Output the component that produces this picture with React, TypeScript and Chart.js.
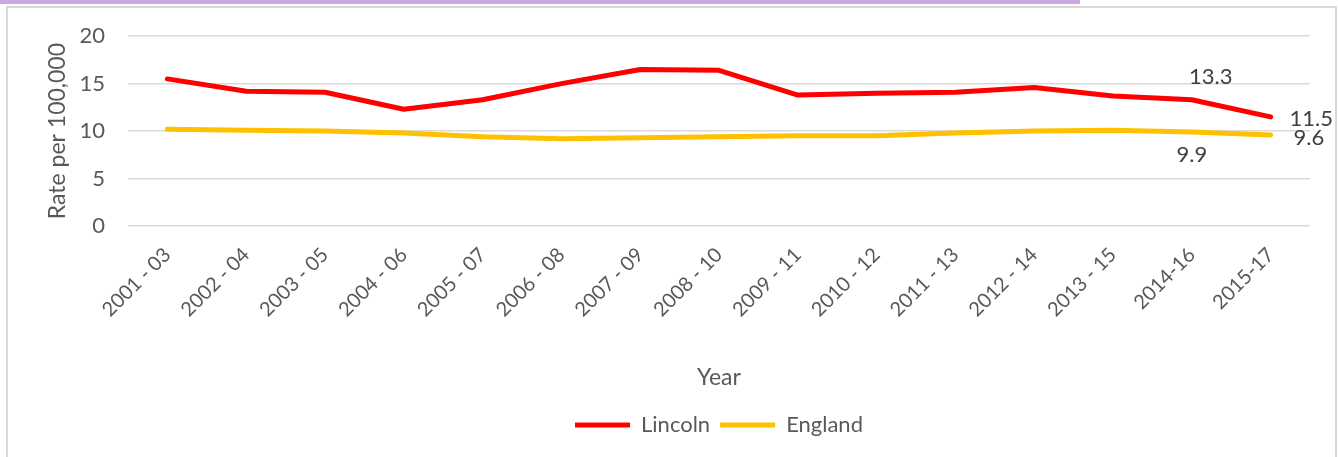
import React, { useEffect, useRef } from "react";
import { Chart, registerables } from "chart.js";

Chart.register(...registerables);

const categories = [
  "2001 - 03", "2002 - 04", "2003 - 05", "2004 - 06", "2005 - 07",
  "2006 - 08", "2007 - 09", "2008 - 10", "2009 - 11", "2010 - 12",
  "2011 - 13", "2012 - 14", "2013 - 15", "2014-16", "2015-17",
];
const lincoln = [15.5, 14.2, 14.1, 12.3, 13.3, 15.0, 16.5, 16.4, 13.8, 14.0, 14.1, 14.6, 13.7, 13.3, 11.5];
const england = [10.2, 10.1, 10.0, 9.8, 9.4, 9.2, 9.3, 9.4, 9.5, 9.5, 9.8, 10.0, 10.1, 9.9, 9.6];
const yTicks = [0, 5, 10, 15, 20];

const FONT = "Lato, 'Open Sans', sans-serif";
const TEXT = "#595959";

const framePlugin = {
  id: "frame",
  beforeDraw(chart: any) {
    const ctx = chart.ctx;
    ctx.save();
    ctx.fillStyle = "#ffffff";
    ctx.fillRect(0, 0, chart.width, chart.height);
    ctx.fillStyle = "#c9a9e2";
    ctx.fillRect(0, 0, 1080, 4);
    ctx.strokeStyle = "#d9d9d9";
    ctx.lineWidth = 2;
    ctx.beginPath();
    ctx.moveTo(7, chart.height + 2);
    ctx.lineTo(7, 7);
    ctx.lineTo(1336, 7);
    ctx.lineTo(1336, chart.height + 2);
    ctx.stroke();
    ctx.restore();
  },
};

const labelPlugin = {
  id: "endLabels",
  afterDatasetsDraw(chart: any) {
    const ctx = chart.ctx;
    ctx.save();
    ctx.font = `22px ${FONT}`;
    ctx.fillStyle = "#404040";
    const m0 = chart.getDatasetMeta(0).data;
    const m1 = chart.getDatasetMeta(1).data;
    const n = m0.length;
    ctx.textAlign = "center";
    ctx.textBaseline = "middle";
    ctx.fillText(String(lincoln[n - 2]), m0[n - 2].x + 19, m0[n - 2].y - 23);
    ctx.fillText(String(england[n - 2]), m1[n - 2].x, m1[n - 2].y + 23);
    ctx.textAlign = "left";
    ctx.fillText(String(lincoln[n - 1]), m0[n - 1].x + 19, m0[n - 1].y + 2);
    ctx.fillText(String(england[n - 1]), m1[n - 1].x + 23, m1[n - 1].y + 3);
    ctx.restore();
  },
};

export default function App() {
  const ref = useRef<HTMLCanvasElement>(null);
  useEffect(() => {
    document.body.style.margin = "0";
    const chart = new Chart(ref.current!, {
      type: "line",
      data: {
        labels: categories,
        datasets: [
          {
            label: "Lincoln",
            data: lincoln,
            borderColor: "#ff0000",
            backgroundColor: "#ff0000",
            borderWidth: 5,
            borderCapStyle: "round",
            borderJoinStyle: "round",
            pointRadius: 0,
            tension: 0,
          },
          {
            label: "England",
            data: england,
            borderColor: "#ffc000",
            backgroundColor: "#ffc000",
            borderWidth: 5,
            borderCapStyle: "round",
            borderJoinStyle: "round",
            pointRadius: 0,
            tension: 0,
          },
        ],
      },
      options: {
        animation: false,
        responsive: false,
        devicePixelRatio: 1,
        layout: { padding: { top: 35, left: 8, right: 28, bottom: 11 } },
        plugins: {
          legend: {
            position: "bottom",
            fullSize: false,
            labels: {
              usePointStyle: true,
              pointStyle: "line",
              pointStyleWidth: 55,
              color: TEXT,
              font: { family: FONT, size: 22 },
              padding: 10,
            },
          },
          tooltip: { enabled: false },
        },
        scales: {
          x: {
            offset: true,
            grid: { display: false, drawTicks: false },
            border: { display: false },
            ticks: {
              autoSkip: false,
              maxRotation: 45,
              minRotation: 45,
              color: TEXT,
              font: { family: FONT, size: 20 },
              padding: 17,
            },
            title: {
              display: true,
              text: "Year",
              color: TEXT,
              font: { family: FONT, size: 23 },
              padding: { top: 4, bottom: 13 },
            },
            afterFit: (s: any) => {
              s.height = 178;
            },
          },
          y: {
            min: 0,
            max: 20,
            afterBuildTicks: (s: any) => {
              s.ticks = yTicks.map((v) => ({ value: v }));
            },
            grid: { color: "#d9d9d9", lineWidth: 1.5, drawTicks: false },
            border: { display: false },
            ticks: {
              color: TEXT,
              font: { family: FONT, size: 22 },
              padding: 23,
            },
            title: {
              display: true,
              text: "Rate per 100,000",
              color: TEXT,
              font: { family: FONT, size: 23 },
              padding: { top: 36, bottom: 0 },
            },
            afterFit: (s: any) => {
              s.width = 120;
            },
          },
        },
      },
      plugins: [framePlugin, labelPlugin],
    });
    return () => chart.destroy();
  }, []);
  return (
    <div style={{ position: "fixed", left: 0, top: 0, width: 1338, height: 457 }}>
      <canvas ref={ref} width={1338} height={457} />
    </div>
  );
}
